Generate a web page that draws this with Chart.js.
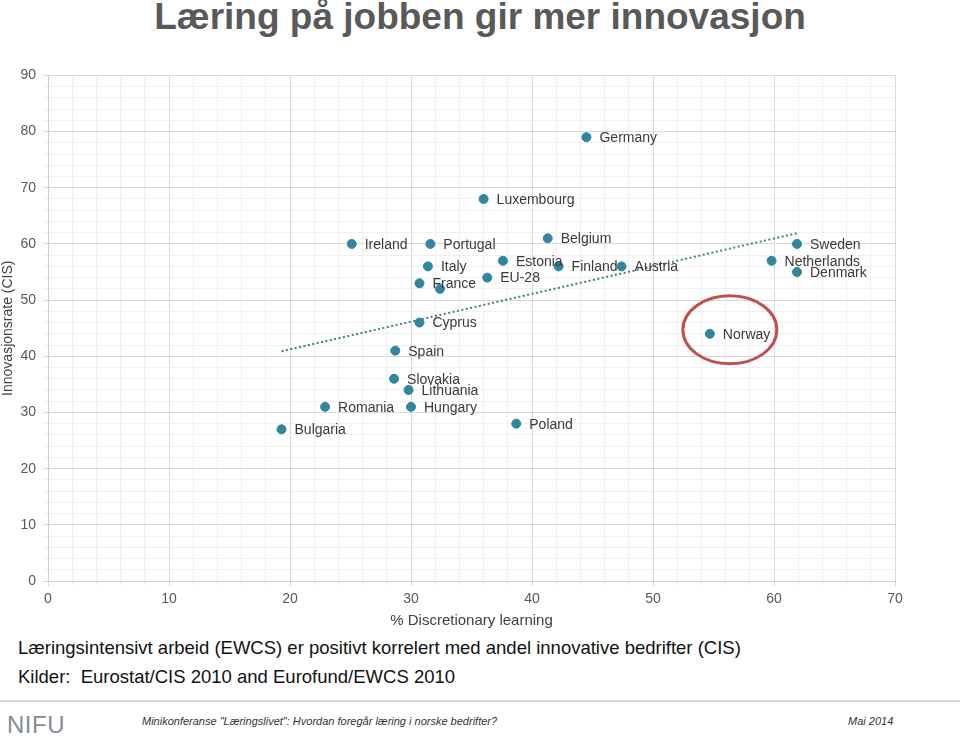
<!DOCTYPE html>
<html>
<head>
<meta charset="utf-8">
<script src="https://cdn.jsdelivr.net/npm/chart.js@4"></script>
<style>
  body { margin: 0; width: 960px; height: 739px; background: #fff; position: relative; overflow: hidden; font-family: "Liberation Sans", Arial, sans-serif; }
  h1 { position: absolute; top: -4px; left: 0; width: 960px; margin: 0; text-align: center; font-size: 37px; font-weight: bold; color: #595959; }
  #wrap { position: absolute; left: 0; top: 60px; width: 960px; height: 570px; }
  .txt { position: absolute; left: 18px; font-size: 18.5px; color: #111; }
  #rule { position: absolute; left: 0; top: 700px; width: 960px; height: 2px; background: #d8d8d8; }
  #logo { position: absolute; left: 7px; top: 711px; font-size: 24px; color: #868c94; letter-spacing: 0.5px; }
  .foot { position: absolute; top: 715px; font-size: 11px; font-style: italic; color: #333; font-family: "Liberation Sans Narrow", "Liberation Sans", Arial, sans-serif; }
</style>
</head>
<body>
<h1>Læring på jobben gir mer innovasjon</h1>
<div id="wrap"><canvas id="scatter"></canvas></div>
<div class="txt" style="top:637px">Læringsintensivt arbeid (EWCS) er positivt korrelert med andel innovative bedrifter (CIS)</div>
<div class="txt" style="top:666px">Kilder:&nbsp; Eurostat/CIS 2010 and Eurofund/EWCS 2010</div>
<div id="rule"></div>
<div id="logo">NIFU</div>
<div class="foot" style="left:142px">Minikonferanse "Læringslivet": Hvordan foregår læring i norske bedrifter?</div>
<div class="foot" style="left:848px">Mai 2014</div>

<script>
// ---------------------
// DATA
// ---------------------
const countries = ["Germany", "Luxembourg", "Ireland", "Portugal", "Belgium", "Estonia", "Italy", "Finland",
  "Austria", "EU-28", "France", "", "Cyprus", "Spain", "Slovakia", "Lithuania", "Hungary", "Romania",
  "Bulgaria", "Poland", "Norway", "Sweden", "Netherlands", "Denmark"];
const discretionary = [44.5, 36.0, 25.1, 31.6, 41.3, 37.6, 31.4, 42.2,
  47.4, 36.3, 30.7, 32.4, 30.7, 28.7, 28.6, 29.8, 30.0, 22.9,
  19.3, 38.7, 54.7, 61.9, 59.8, 61.9];
const innovation = [79, 68, 60, 60, 61, 57, 56, 56,
  56, 54, 53, 52, 46, 41, 36, 34, 31, 31,
  27, 28, 44, 60, 57, 55];
const trendX = [19.3, 61.9];
const trendY = [40.9, 61.9];

const teal = "#31859c";

// ---------------------
// PLUGINS
// ---------------------
const pointLabels = {
  id: "pointLabels",
  afterDatasetsDraw(chart) {
    const c = chart.ctx;
    const meta = chart.getDatasetMeta(0);
    c.save();
    c.font = "14px 'Liberation Sans', Arial, sans-serif";
    c.fillStyle = "#3a3a3a";
    c.textBaseline = "middle";
    meta.data.forEach((pt, i) => {
      if (countries[i]) c.fillText(countries[i], pt.x + 13, pt.y + 1);
    });
    c.restore();
  }
};

const norwayRing = {
  id: "norwayRing",
  afterDraw(chart) {
    const i = countries.indexOf("Norway");
    const x = chart.scales.x.getPixelForValue(discretionary[i]);
    const y = chart.scales.y.getPixelForValue(innovation[i]);
    const c = chart.ctx;
    c.save();
    c.strokeStyle = "#c0504d";
    c.lineWidth = 3;
    c.beginPath();
    c.ellipse(x + 20, y - 4, 47, 34, 0, 0, Math.PI * 2);
    c.stroke();
    c.restore();
  }
};

// ---------------------
// CHART
// ---------------------
const gridColor = (ctx) => (ctx.tick && ctx.tick.value % 10 === 0) ? "#d9d9d9" : "#efefef";
const tickCb = (v) => (v % 10 === 0 ? v : "");
const tickFont = { size: 14, family: "'Liberation Sans', Arial" };

new Chart(document.getElementById("scatter"), {
  type: "scatter",
  data: {
    datasets: [{
      data: discretionary.map((x, i) => ({ x: x, y: innovation[i] })),
      backgroundColor: teal,
      borderColor: teal,
      pointRadius: 4.5,
      order: 1
    }, {
      type: "line",
      data: trendX.map((x, i) => ({ x: x, y: trendY[i] })),
      borderColor: "#3b7f8c",
      borderWidth: 2,
      borderDash: [2, 2.5],
      pointRadius: 0,
      fill: false,
      order: 2
    }]
  },
  options: {
    responsive: true,
    maintainAspectRatio: false,
    animation: false,
    layout: { padding: { top: 15, right: 65, left: 0, bottom: 0 } },
    plugins: { legend: { display: false }, tooltip: { enabled: false } },
    scales: {
      x: {
        type: "linear",
        min: 0, max: 70,
        afterBuildTicks(scale) { scale.ticks = Array.from({ length: 36 }, (_, k) => ({ value: k * 2 })); },
        ticks: { callback: tickCb, autoSkip: false, maxRotation: 0, color: "#595959", font: tickFont, padding: 5 },
        grid: { color: gridColor, tickColor: gridColor, tickLength: 5 },
        border: { color: "#d0d0d0" },
        title: { display: true, text: "% Discretionary learning", color: "#404040", font: { size: 15, family: "'Liberation Sans', Arial" }, padding: { top: 1, bottom: 0 } },
        afterFit(scale) { scale.height = 49; }
      },
      y: {
        type: "linear",
        min: 0, max: 90,
        afterBuildTicks(scale) { scale.ticks = Array.from({ length: 46 }, (_, k) => ({ value: k * 2 })); },
        ticks: { callback: tickCb, autoSkip: false, color: "#595959", font: tickFont, padding: 7 },
        grid: { color: gridColor, tickColor: gridColor, tickLength: 5 },
        border: { color: "#d0d0d0" },
        title: { display: true, text: "Innovasjonsrate (CIS)", color: "#404040", font: { size: 14, family: "'Liberation Sans', Arial" }, padding: 0 },
        afterFit(scale) { scale.width = 48; }
      }
    }
  },
  plugins: [pointLabels, norwayRing]
});
</script>
</body>
</html>
